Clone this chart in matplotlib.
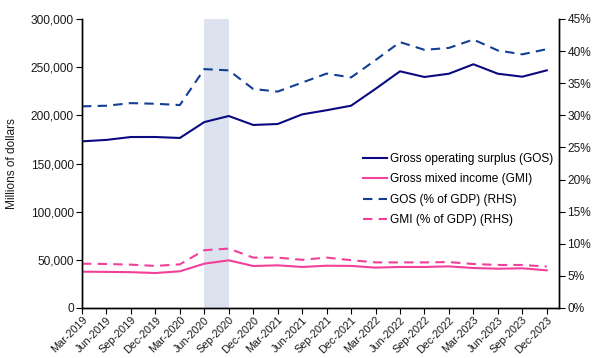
import matplotlib
matplotlib.use("Agg")
import matplotlib.pyplot as plt
from matplotlib.ticker import FuncFormatter

plt.rcParams['font.family'] = ['Liberation Sans', 'DejaVu Sans']

quarters = ["Mar-2019", "Jun-2019", "Sep-2019", "Dec-2019", "Mar-2020", "Jun-2020",
            "Sep-2020", "Dec-2020", "Mar-2021", "Jun-2021", "Sep-2021", "Dec-2021",
            "Mar-2022", "Jun-2022", "Sep-2022", "Dec-2022", "Mar-2023", "Jun-2023",
            "Sep-2023", "Dec-2023"]

# Millions of dollars
gos = [173000, 174500, 177500, 177500, 176500, 193000, 199300, 190000, 191000, 201000,
       205300, 210000, 227500, 245700, 239800, 243200, 253000, 243200, 240100, 246700]
gmi = [37700, 37500, 37200, 36300, 38100, 46000, 49500, 43600, 44300, 42600,
       43900, 43700, 41900, 42600, 42600, 43200, 41500, 40800, 41200, 39100]

# Share of GDP (%), right-hand axis
gos_pct = [31.4, 31.5, 31.9, 31.8, 31.6, 37.2, 37.0, 34.1, 33.7, 35.1,
           36.5, 35.9, 38.6, 41.4, 40.2, 40.5, 41.8, 40.1, 39.5, 40.3]
gmi_pct = [6.9, 6.85, 6.75, 6.55, 6.8, 9.0, 9.25, 7.85, 7.85, 7.5,
           7.85, 7.45, 7.1, 7.1, 7.1, 7.15, 6.85, 6.7, 6.7, 6.45]

shade_start, shade_end = "Jun-2020", "Sep-2020"

navy = "#0a0a80"
blue = "#123f94"
pink = "#f2409a"
fs = 8.6

fig = plt.figure(figsize=(5.93, 3.58), dpi=100)
ax = fig.add_axes([82 / 593, 1 - 308 / 358, (559 - 82) / 593, (308 - 19) / 358])
ax2 = ax.twinx()

x = list(range(len(quarters)))
ax.axvspan(quarters.index(shade_start), quarters.index(shade_end),
           color="#dce3ee", lw=0, zorder=0)

l1, = ax.plot(x, gos, color=navy, lw=1.5, label="Gross operating surplus (GOS)")
l2, = ax.plot(x, gmi, color=pink, lw=1.5, label="Gross mixed income (GMI)")
l3, = ax2.plot(x, gos_pct, color=blue, lw=1.5, ls=(0, (4.5, 3)), label="GOS (% of GDP) (RHS)")
l4, = ax2.plot(x, gmi_pct, color=pink, lw=1.5, ls=(0, (4.5, 3)), label="GMI (% of GDP) (RHS)")

ax.set_xlim(0, 19.5)
ax.set_ylim(0, 300000)
ax.set_yticks(range(0, 300001, 50000))
ax.yaxis.set_major_formatter(FuncFormatter(lambda v, p: f"{int(v):,}"))
ax2.set_ylim(0, 45)
ax2.set_yticks(range(0, 46, 5))
ax2.yaxis.set_major_formatter(FuncFormatter(lambda v, p: f"{int(v)}%"))

ax.set_xticks(x)
ax.set_xticklabels(quarters, rotation=45, ha="right", rotation_mode="anchor")

for a in (ax, ax2):
    a.spines["top"].set_visible(False)
    for s in a.spines.values():
        s.set_linewidth(1.0)
    a.tick_params(axis="both", labelsize=fs, length=4, width=0.8, color="black",
                  labelcolor="#1a1a1a", pad=2)
ax.tick_params(axis="x", labelsize=7.8, pad=1)

ax.set_ylabel("Millions of dollars", fontsize=fs, color="#1a1a1a", labelpad=9)

ax.legend(handles=[l1, l2, l3, l4], loc="upper left", frameon=False, fontsize=fs,
          bbox_to_anchor=(357 / 593, 1 - 147 / 358), bbox_transform=fig.transFigure,
          handlelength=2.0, handletextpad=0.3, labelspacing=0.7, borderpad=0)

fig.savefig("out.png", dpi=100)
